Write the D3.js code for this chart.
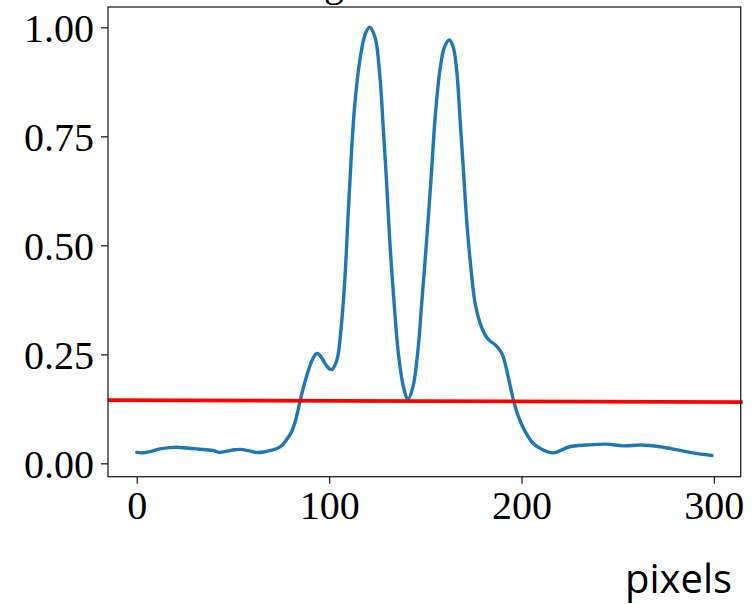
<!DOCTYPE html>
<html>
<head>
<meta charset="utf-8">
<script src="https://cdn.jsdelivr.net/npm/d3@7"></script>
<style>
  html, body { margin: 0; padding: 0; background: #fff; }
  svg { display: block; }
</style>
</head>
<body>
<svg id="chart" width="756" height="604"></svg>
<script>
// Line profile: normalised intensity along the pixel axis
const pixelIndex = [0, 3, 7, 12, 17, 21, 26, 31, 36, 40, 43, 47, 51, 54, 58, 62, 66, 70, 73, 76,
  78, 80, 82, 84, 85, 87, 89, 91, 93, 94, 96, 98, 100, 101.5, 103, 104.5, 106, 108, 110,
  111.7, 113.4, 116, 118.6, 121, 123.8, 126.4, 128.1, 129.9, 131.6, 133.4, 136, 138.6, 141, 143.6, 146.4, 148, 149.8, 151.6, 153.3,
  155, 157.6, 160, 162.5, 164.5, 166.3, 168.1, 169.8, 171.5, 173.3, 175.9, 178.5, 181, 183, 186, 188, 190, 191.5, 193.5, 195.8,
  198.4, 202, 206, 211, 216.6, 221, 225, 234, 244, 253, 262, 272, 281, 289, 299];
const intensity = [0.025, 0.024, 0.027, 0.033, 0.036, 0.037, 0.035, 0.033, 0.031, 0.029, 0.025, 0.028, 0.031, 0.032, 0.029, 0.025, 0.026, 0.030, 0.034, 0.043,
  0.055, 0.068, 0.090, 0.125, 0.145, 0.180, 0.210, 0.235, 0.250, 0.252, 0.243, 0.228, 0.217, 0.215, 0.225, 0.245, 0.300, 0.410, 0.580,
  0.720, 0.826, 0.925, 0.982, 1.000, 0.978, 0.887, 0.772, 0.642, 0.505, 0.390, 0.252, 0.176, 0.147, 0.176, 0.270, 0.360, 0.460, 0.565, 0.673,
  0.787, 0.902, 0.955, 0.971, 0.955, 0.902, 0.787, 0.673, 0.558, 0.466, 0.367, 0.321, 0.295, 0.283, 0.273, 0.264, 0.250, 0.229, 0.190, 0.145,
  0.107, 0.072, 0.046, 0.031, 0.024, 0.031, 0.038, 0.042, 0.044, 0.040, 0.042, 0.038, 0.031, 0.024, 0.018];

// Threshold line (two end points)
const thresholdX = [-14.95, 315];
const thresholdY = [0.145, 0.1405];

const xTicks = [0, 100, 200, 300];
const yTicks = [0.00, 0.25, 0.50, 0.75, 1.00];
const xAxisLabel = "pixels";
const titleFragment = "g";

const svg = d3.select("#chart");
const frame = { left: 108, right: 740.7, top: 7, bottom: 476.7 };

const x = d3.scaleLinear().domain([-14.95, 313.95]).range([frame.left, frame.right]);
const y = d3.scaleLinear().domain([-0.0307, 1.0466]).range([frame.bottom, frame.top]);

const serif = "'Liberation Serif', 'Times New Roman', serif";

// title, mostly above the visible area
svg.append("text")
  .attr("x", 324).attr("y", -4)
  .attr("font-family", serif).attr("font-size", 40)
  .text(titleFragment);

// clip for the profile
svg.append("clipPath").attr("id", "plotClip")
  .append("rect")
  .attr("x", frame.left).attr("y", frame.top)
  .attr("width", frame.right - frame.left).attr("height", frame.bottom - frame.top);

const profile = pixelIndex.map((p, i) => [p, intensity[i]]);
const line = d3.line()
  .x(d => x(d[0])).y(d => y(d[1]))
  .curve(d3.curveCatmullRom.alpha(0.5));

svg.append("path")
  .datum(profile)
  .attr("clip-path", "url(#plotClip)")
  .attr("fill", "none")
  .attr("stroke", "#1f77b4")
  .attr("stroke-width", 3.4)
  .attr("stroke-linejoin", "round")
  .attr("stroke-linecap", "round")
  .attr("d", line);

svg.append("path")
  .datum(thresholdX.map((v, i) => [v, thresholdY[i]]))
  .attr("fill", "none")
  .attr("stroke", "#ff0000")
  .attr("stroke-width", 3.8)
  .attr("d", d3.line().x(d => x(d[0])).y(d => y(d[1])));

// axes
const xAxis = d3.axisBottom(x).tickValues(xTicks).tickSize(7).tickPadding(8).tickFormat(d3.format("d"));
const yAxis = d3.axisLeft(y).tickValues(yTicks).tickSize(7).tickPadding(8).tickFormat(d3.format(".2f"));

const gx = svg.append("g").attr("transform", `translate(0,${frame.bottom})`).call(xAxis);
const gy = svg.append("g").attr("transform", `translate(${frame.left},0)`).call(yAxis);

[gx, gy].forEach(g => {
  g.select(".domain").remove();
  g.selectAll(".tick line").attr("stroke", "#222").attr("stroke-width", 1.3);
  g.selectAll(".tick text")
    .attr("font-family", serif).attr("font-size", 40).attr("fill", "#000");
});
gx.selectAll(".tick text").attr("dy", null).attr("y", 42);
gy.selectAll(".tick text").attr("dy", null).attr("y", 14.5).attr("x", -14);

// frame
svg.append("rect")
  .attr("x", frame.left).attr("y", frame.top)
  .attr("width", frame.right - frame.left).attr("height", frame.bottom - frame.top)
  .attr("fill", "none").attr("stroke", "#222").attr("stroke-width", 1.3);

svg.append("text")
  .attr("x", 625).attr("y", 593)
  .attr("font-family", "'Open Sans', sans-serif").attr("font-size", 40)
  .attr("fill", "#000")
  .text(xAxisLabel);
</script>
</body>
</html>
